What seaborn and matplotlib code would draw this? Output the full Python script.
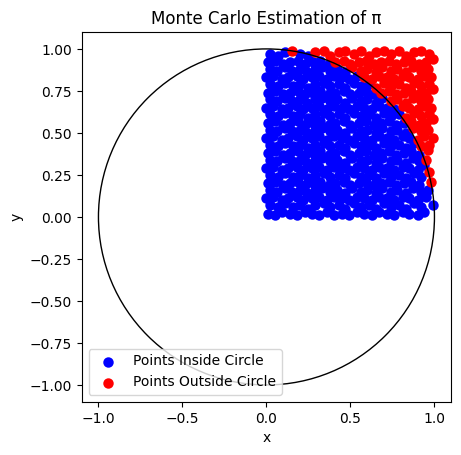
import matplotlib
matplotlib.use("Agg")
import matplotlib.pyplot as plt
import seaborn as sns
import pandas as pd

title = "Monte Carlo Estimation of π"
label_inside = "Points Inside Circle"
label_outside = "Points Outside Circle"

points = [
    (0.01,0.02),(0.05,0.01),(0.09,0.03),(0.14,0.02),(0.18,0.01),(0.23,0.03),(0.27,0.02),(0.31,0.01),(0.36,0.03),(0.40,0.01),(0.45,0.02),(0.49,0.01),(0.54,0.03),(0.58,0.02),(0.63,0.01),(0.67,0.03),(0.72,0.02),(0.76,0.01),(0.81,0.03),(0.85,0.02),(0.90,0.01),(0.94,0.03),
    (0.02,0.07),(0.07,0.06),(0.11,0.08),(0.16,0.06),(0.20,0.07),(0.25,0.05),(0.29,0.07),(0.34,0.08),(0.38,0.06),(0.43,0.07),(0.47,0.05),(0.52,0.08),(0.56,0.06),(0.61,0.07),(0.65,0.05),(0.70,0.08),(0.74,0.06),(0.79,0.07),(0.83,0.05),(0.88,0.08),(0.92,0.06),(0.99,0.07),
    (0.00,0.11),(0.04,0.12),(0.09,0.10),(0.13,0.11),(0.18,0.12),(0.22,0.10),(0.27,0.11),(0.31,0.12),(0.36,0.10),(0.40,0.12),(0.45,0.11),(0.49,0.10),(0.54,0.12),(0.58,0.11),(0.63,0.10),(0.67,0.12),(0.72,0.11),(0.76,0.10),(0.81,0.12),(0.85,0.11),(0.90,0.10),(0.95,0.12),
    (0.02,0.16),(0.06,0.15),(0.11,0.17),(0.15,0.15),(0.20,0.16),(0.24,0.14),(0.29,0.16),(0.33,0.17),(0.38,0.15),(0.42,0.16),(0.47,0.14),(0.51,0.17),(0.56,0.15),(0.60,0.16),(0.65,0.14),(0.69,0.17),(0.74,0.15),(0.78,0.16),(0.83,0.14),(0.87,0.17),(0.92,0.15),(0.96,0.16),
    (0.01,0.20),(0.05,0.21),(0.10,0.19),(0.14,0.20),(0.19,0.21),(0.23,0.19),(0.28,0.20),(0.32,0.21),(0.37,0.19),(0.41,0.20),(0.46,0.21),(0.50,0.19),(0.55,0.20),(0.59,0.21),(0.64,0.19),(0.68,0.20),(0.73,0.21),(0.77,0.19),(0.82,0.20),(0.86,0.21),(0.91,0.19),(0.98,0.21),
    (0.02,0.25),(0.07,0.24),(0.11,0.26),(0.16,0.24),(0.20,0.25),(0.25,0.23),(0.29,0.25),(0.34,0.26),(0.38,0.24),(0.43,0.25),(0.47,0.23),(0.52,0.26),(0.56,0.24),(0.61,0.25),(0.65,0.23),(0.70,0.26),(0.74,0.24),(0.79,0.25),(0.83,0.23),(0.88,0.26),(0.92,0.24),(0.97,0.27),
    (0.00,0.29),(0.04,0.30),(0.09,0.28),(0.13,0.29),(0.18,0.30),(0.22,0.28),(0.27,0.29),(0.31,0.30),(0.36,0.28),(0.40,0.30),(0.45,0.29),(0.49,0.28),(0.54,0.30),(0.58,0.29),(0.63,0.28),(0.67,0.30),(0.72,0.29),(0.76,0.28),(0.81,0.30),(0.85,0.29),(0.90,0.28),(0.94,0.31),
    (0.02,0.34),(0.06,0.33),(0.11,0.35),(0.15,0.33),(0.20,0.34),(0.24,0.32),(0.29,0.34),(0.33,0.35),(0.38,0.33),(0.42,0.34),(0.47,0.32),(0.51,0.35),(0.56,0.33),(0.60,0.34),(0.65,0.32),(0.69,0.35),(0.74,0.33),(0.78,0.34),(0.83,0.32),(0.87,0.35),(0.91,0.33),(0.95,0.34),
    (0.01,0.38),(0.05,0.39),(0.10,0.37),(0.14,0.38),(0.19,0.39),(0.23,0.37),(0.28,0.38),(0.32,0.39),(0.37,0.37),(0.41,0.38),(0.46,0.39),(0.50,0.37),(0.55,0.38),(0.59,0.39),(0.64,0.37),(0.68,0.38),(0.73,0.39),(0.77,0.37),(0.82,0.38),(0.86,0.39),(0.91,0.37),(0.96,0.40),
    (0.02,0.43),(0.07,0.42),(0.11,0.44),(0.16,0.42),(0.20,0.43),(0.25,0.41),(0.29,0.43),(0.34,0.44),(0.38,0.42),(0.43,0.43),(0.47,0.41),(0.52,0.44),(0.56,0.42),(0.61,0.43),(0.65,0.41),(0.70,0.44),(0.74,0.42),(0.79,0.43),(0.83,0.41),(0.88,0.44),(0.92,0.42),(0.97,0.43),
    (0.00,0.47),(0.04,0.48),(0.09,0.46),(0.13,0.47),(0.18,0.48),(0.22,0.46),(0.27,0.47),(0.31,0.48),(0.36,0.46),(0.40,0.48),(0.45,0.47),(0.49,0.46),(0.54,0.48),(0.58,0.47),(0.63,0.46),(0.67,0.48),(0.72,0.47),(0.76,0.46),(0.81,0.48),(0.85,0.47),(0.90,0.46),(0.94,0.48),(0.99,0.47),
    (0.02,0.52),(0.06,0.51),(0.11,0.53),(0.15,0.51),(0.20,0.52),(0.24,0.50),(0.29,0.52),(0.33,0.53),(0.38,0.51),(0.42,0.52),(0.47,0.50),(0.51,0.53),(0.56,0.51),(0.60,0.52),(0.65,0.50),(0.69,0.53),(0.74,0.51),(0.78,0.52),(0.83,0.50),(0.87,0.53),(0.92,0.51),(0.96,0.52),
    (0.01,0.56),(0.05,0.57),(0.10,0.55),(0.14,0.56),(0.19,0.57),(0.23,0.55),(0.28,0.56),(0.32,0.57),(0.37,0.55),(0.41,0.56),(0.46,0.57),(0.50,0.55),(0.55,0.56),(0.59,0.57),(0.64,0.55),(0.68,0.56),(0.73,0.57),(0.77,0.55),(0.82,0.56),(0.86,0.57),(0.91,0.55),(0.95,0.56),(0.99,0.58),
    (0.02,0.61),(0.07,0.60),(0.11,0.62),(0.16,0.60),(0.20,0.61),(0.25,0.59),(0.29,0.61),(0.34,0.62),(0.38,0.60),(0.43,0.61),(0.47,0.59),(0.52,0.62),(0.56,0.60),(0.61,0.61),(0.65,0.59),(0.70,0.62),(0.74,0.60),(0.79,0.61),(0.83,0.59),(0.88,0.62),(0.92,0.60),(0.97,0.61),
    (0.00,0.65),(0.04,0.66),(0.09,0.64),(0.13,0.65),(0.18,0.66),(0.22,0.64),(0.27,0.65),(0.31,0.66),(0.36,0.64),(0.40,0.66),(0.45,0.65),(0.49,0.64),(0.54,0.66),(0.58,0.65),(0.63,0.64),(0.67,0.66),(0.72,0.65),(0.76,0.64),(0.81,0.66),(0.85,0.65),(0.90,0.64),(0.94,0.66),(0.98,0.65),
    (0.02,0.70),(0.06,0.69),(0.11,0.71),(0.15,0.69),(0.20,0.70),(0.24,0.68),(0.29,0.70),(0.33,0.71),(0.38,0.69),(0.42,0.70),(0.47,0.68),(0.51,0.71),(0.56,0.69),(0.60,0.70),(0.65,0.68),(0.69,0.71),(0.74,0.69),(0.78,0.70),(0.83,0.68),(0.87,0.71),(0.92,0.69),(0.96,0.70),
    (0.01,0.74),(0.05,0.75),(0.10,0.73),(0.14,0.74),(0.19,0.75),(0.23,0.73),(0.28,0.74),(0.32,0.75),(0.37,0.73),(0.41,0.74),(0.46,0.75),(0.50,0.73),(0.55,0.74),(0.59,0.75),(0.64,0.73),(0.68,0.74),(0.73,0.75),(0.77,0.73),(0.82,0.74),(0.86,0.75),(0.91,0.73),(0.95,0.74),(0.99,0.76),
    (0.02,0.79),(0.07,0.78),(0.11,0.80),(0.16,0.78),(0.20,0.79),(0.25,0.77),(0.29,0.79),(0.34,0.80),(0.38,0.78),(0.43,0.79),(0.47,0.77),(0.52,0.80),(0.56,0.78),(0.61,0.79),(0.65,0.77),(0.70,0.80),(0.74,0.78),(0.79,0.79),(0.83,0.77),(0.88,0.80),(0.92,0.78),(0.97,0.79),
    (0.00,0.83),(0.04,0.84),(0.09,0.82),(0.13,0.83),(0.18,0.84),(0.22,0.82),(0.27,0.83),(0.31,0.84),(0.36,0.82),(0.40,0.84),(0.45,0.83),(0.49,0.82),(0.54,0.84),(0.58,0.83),(0.63,0.82),(0.67,0.84),(0.72,0.83),(0.76,0.82),(0.81,0.84),(0.85,0.83),(0.90,0.82),(0.94,0.84),(0.98,0.83),
    (0.02,0.88),(0.06,0.87),(0.11,0.89),(0.15,0.87),(0.20,0.88),(0.24,0.86),(0.29,0.88),(0.33,0.89),(0.38,0.87),(0.42,0.88),(0.47,0.86),(0.51,0.89),(0.56,0.87),(0.60,0.88),(0.65,0.86),(0.69,0.89),(0.74,0.87),(0.78,0.88),(0.83,0.86),(0.87,0.89),(0.92,0.87),(0.96,0.88),
    (0.01,0.92),(0.05,0.93),(0.10,0.91),(0.14,0.92),(0.19,0.93),(0.23,0.91),(0.28,0.92),(0.32,0.93),(0.37,0.91),(0.41,0.92),(0.46,0.93),(0.50,0.91),(0.55,0.92),(0.59,0.93),(0.64,0.91),(0.68,0.92),(0.73,0.93),(0.77,0.91),(0.82,0.92),(0.86,0.93),(0.91,0.91),(0.95,0.92),(0.99,0.94),
    (0.02,0.97),(0.07,0.96),(0.11,0.98),(0.15,0.99),(0.20,0.97),(0.25,0.96),(0.29,0.98),(0.34,0.99),(0.38,0.96),(0.43,0.98),(0.47,0.99),(0.52,0.97),(0.56,0.99),(0.61,0.96),(0.65,0.98),(0.70,0.99),(0.74,0.97),(0.79,0.99),(0.83,0.96),(0.88,0.98),(0.92,0.99),(0.97,0.97),
]

df = pd.DataFrame(points, columns=["x", "y"])
df["inside"] = df["x"] ** 2 + df["y"] ** 2 <= 1
inside = df[df["inside"]]
outside = df[~df["inside"]]

fig, ax = plt.subplots(figsize=(6.4, 4.8), dpi=100)
sns.scatterplot(data=inside, x="x", y="y", color="blue", edgecolor="blue",
                s=36, linewidth=1.5, label=label_inside, ax=ax)
sns.scatterplot(data=outside, x="x", y="y", color="red", edgecolor="red",
                s=36, linewidth=1.5, label=label_outside, ax=ax)
circle = plt.Circle((0, 0), 1, fill=False, color="black")
ax.add_patch(circle)
ax.set_xlim(-1.1, 1.1)
ax.set_ylim(-1.1, 1.1)
ax.set_aspect("equal")
ax.set_xticks([-1.0, -0.5, 0.0, 0.5, 1.0])
ax.set_yticks([-1.0, -0.75, -0.5, -0.25, 0.0, 0.25, 0.5, 0.75, 1.0])
ax.set_xlabel("x")
ax.set_ylabel("y")
ax.set_title(title)
ax.legend(loc="lower left")
fig.savefig("out.png", bbox_inches="tight")
